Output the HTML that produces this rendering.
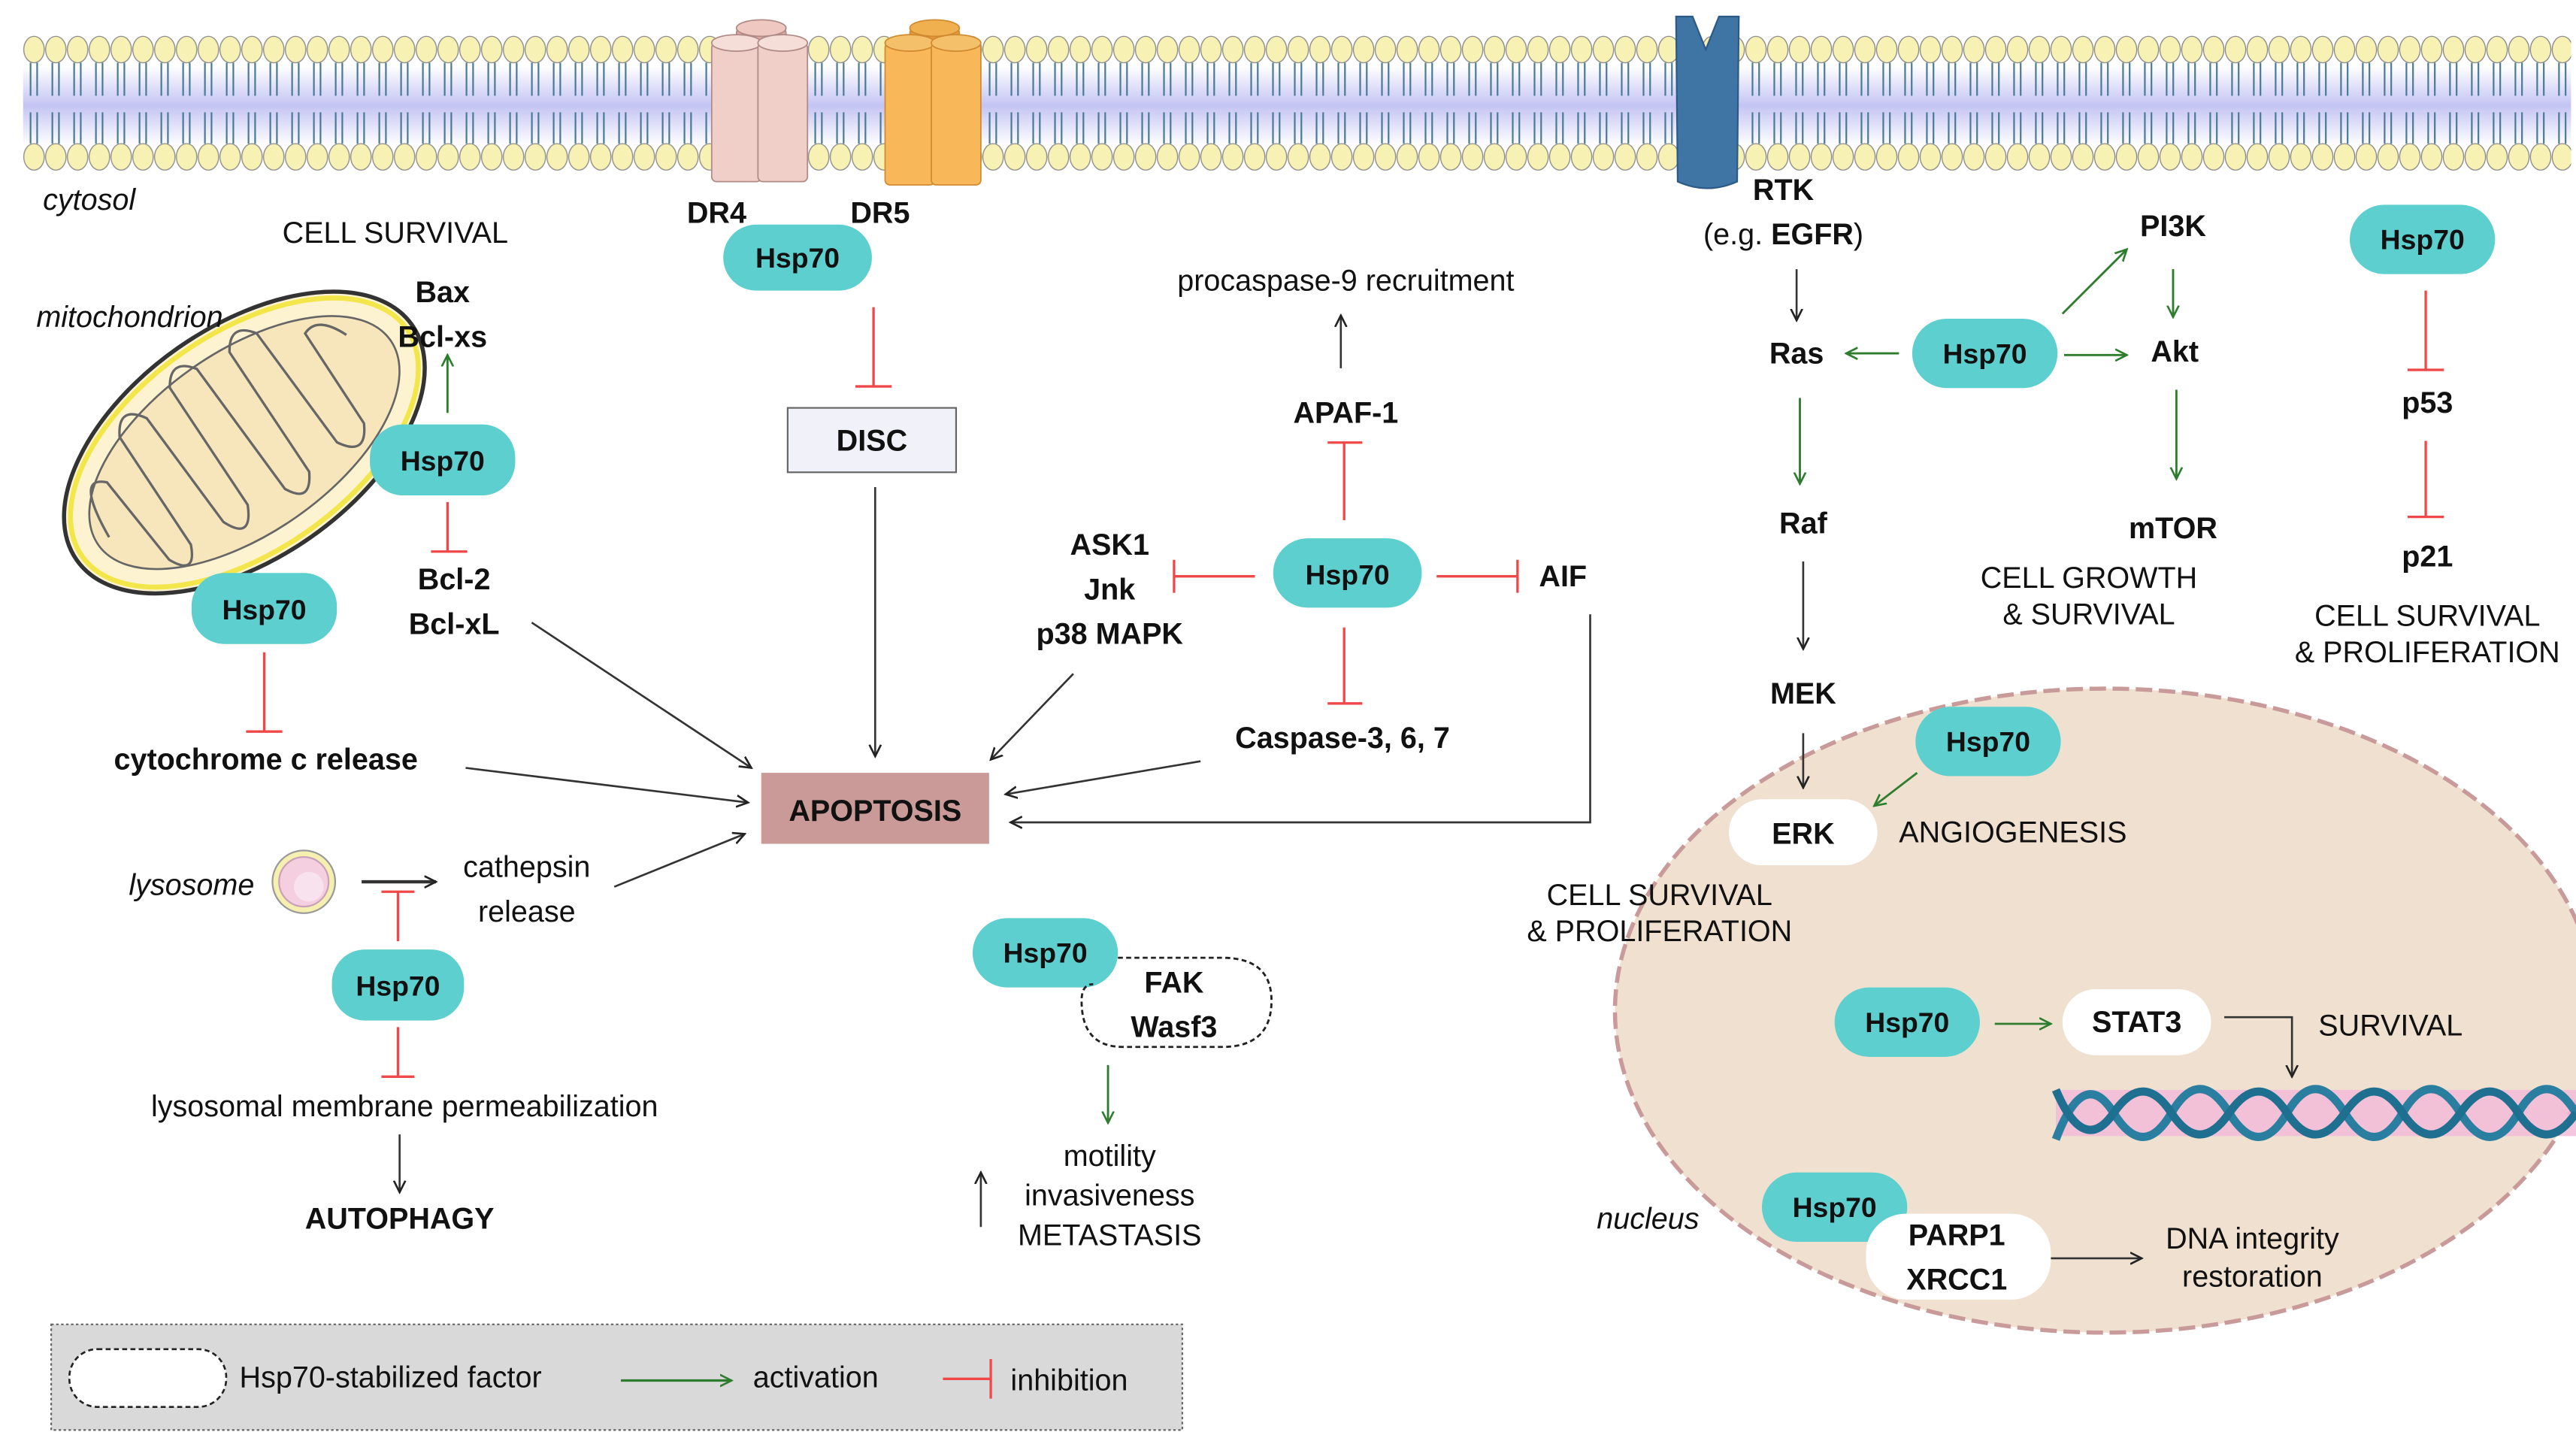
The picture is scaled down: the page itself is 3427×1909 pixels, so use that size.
<!DOCTYPE html>
<html><head><meta charset="utf-8"><style>
html,body{margin:0;padding:0;background:#fff}
svg{display:block}
text{font-family:"Liberation Sans",sans-serif;fill:#111}
.b{font-weight:bold;font-size:18px}
.r{font-size:18px}
.h{font-weight:bold;font-size:17px;text-anchor:middle}
</style></head><body>
<svg width="3427" height="1909" viewBox="0 0 1560 869" preserveAspectRatio="none" xmlns="http://www.w3.org/2000/svg">
<defs>
<linearGradient id="band" x1="0" y1="0" x2="0" y2="1">
<stop offset="0" stop-color="#fff"/><stop offset="0.5" stop-color="#c4c4f4"/><stop offset="1" stop-color="#fff"/></linearGradient>
<pattern id="heads" x="14" y="0" width="13.2" height="120" patternUnits="userSpaceOnUse">
<ellipse cx="6.6" cy="30" rx="6.2" ry="8" fill="#f8f1b4" stroke="#888" stroke-width="0.6"/>
<ellipse cx="6.6" cy="95" rx="6.2" ry="8" fill="#f8f1b4" stroke="#888" stroke-width="0.6"/>
<path d="M4.5 38 V58 M8.5 38 V58 M4.5 68 V87 M8.5 68 V87" stroke="#4a7a95" stroke-width="1"/>
</pattern>
<marker id="ak" markerWidth="8" markerHeight="8" refX="7" refY="4" orient="auto" markerUnits="userSpaceOnUse"><path d="M0,0.5 L7,4 L0,7.5" fill="none" stroke="#222" stroke-width="1.2"/></marker>
<marker id="ag" markerWidth="8" markerHeight="8" refX="7" refY="4" orient="auto" markerUnits="userSpaceOnUse"><path d="M0,0.5 L7,4 L0,7.5" fill="none" stroke="#2e7d2e" stroke-width="1.2"/></marker>
</defs>

<rect x="14" y="40" width="1543" height="48" fill="url(#band)"/>
<rect x="14" y="18" width="1543" height="90" fill="url(#heads)"/>
<g stroke="#b08a86" stroke-width="0.8">
<rect x="446" y="17" width="30" height="80" rx="3" fill="#e0a8a0"/>
<ellipse cx="461" cy="17" rx="15" ry="5" fill="#efc8c2"/>
<rect x="431" y="26" width="30" height="84" rx="3" fill="#f0cfc8"/>
<ellipse cx="446" cy="26" rx="15" ry="5" fill="#f5ddd8"/>
<rect x="459" y="26" width="30" height="84" rx="3" fill="#f0cfc8"/>
<ellipse cx="474" cy="26" rx="15" ry="5" fill="#f5ddd8"/>
</g>
<g stroke="#d08a30" stroke-width="0.8">
<rect x="551" y="17" width="30" height="80" rx="3" fill="#e59a3a"/>
<ellipse cx="566" cy="17" rx="15" ry="5" fill="#f0b050"/>
<rect x="536" y="26" width="30" height="86" rx="3" fill="#f8b85a"/>
<ellipse cx="551" cy="26" rx="15" ry="5" fill="#f5c06a"/>
<rect x="564" y="26" width="30" height="86" rx="3" fill="#f8b85a"/>
<ellipse cx="579" cy="26" rx="15" ry="5" fill="#f5c06a"/>
</g>
<path d="M1015 10 L1025 10 L1033 30 L1041 10 L1053 10 L1052 110 Q1034 118 1016 110 Z" fill="#3f75a5" stroke="#2c5a85" stroke-width="1"/>

<ellipse cx="1275" cy="612" rx="297" ry="195" fill="#efe0d0" stroke="#c99a9a" stroke-width="2.5" stroke-dasharray="10,4"/>
<g>
<rect x="1245" y="660" width="315" height="28" fill="#f3b8d8" opacity="0.8"/>
<path d="M1245 690 Q1262 645 1280 674 T1315 674 T1350 674 T1385 674 T1420 674 T1455 674 T1490 674 T1525 674 T1560 674" fill="none" stroke="#2a7fa0" stroke-width="5"/>
<path d="M1245 660 Q1262 700 1280 674 T1315 674 T1350 674 T1385 674 T1420 674 T1455 674 T1490 674 T1525 674 T1560 674" fill="none" stroke="#1f6f90" stroke-width="5"/>
</g>

<g transform="rotate(-35 148 268)">
<ellipse cx="148" cy="268" rx="124" ry="70" fill="#fdf3d0" stroke="#333" stroke-width="2.5"/>
<ellipse cx="148" cy="268" rx="120" ry="66" fill="none" stroke="#f2e64a" stroke-width="3"/>
<ellipse cx="148" cy="268" rx="108" ry="55" fill="#f7e6bb" stroke="#666" stroke-width="1.2"/>
<path d="M48 268 Q52 225 66 240 L70 300 Q78 318 86 300 L88 222 Q98 205 108 222 L110 300 Q118 320 128 300 L130 215 Q140 200 150 215 L152 305 Q160 322 170 305 L172 218 Q182 203 192 218 L194 300 Q204 318 214 300 L216 235 Q228 230 236 250" fill="none" stroke="#666" stroke-width="1.5"/>
</g>

<!-- lysosome -->
<circle cx="184" cy="534" r="19" fill="#f5f0b0" stroke="#999" stroke-width="1"/>
<circle cx="184" cy="534" r="15" fill="#f3cfe0" stroke="#c8a0b8" stroke-width="1"/>
<circle cx="187" cy="537" r="9" fill="#f8e2ee"/>

<g fill="#5dcfcf">
<rect x="438" y="136" width="90" height="40" rx="20"/>
<rect x="224" y="257" width="88" height="43" rx="20"/>
<rect x="116" y="347" width="88" height="43" rx="20"/>
<rect x="771" y="326" width="90" height="42" rx="21"/>
<rect x="1158" y="193" width="88" height="42" rx="21"/>
<rect x="1423" y="124" width="88" height="42" rx="21"/>
<rect x="1160" y="428" width="88" height="42" rx="21"/>
<rect x="201" y="575" width="80" height="43" rx="20"/>
<rect x="589" y="556" width="88" height="42" rx="21"/>
<rect x="1111" y="598" width="88" height="42" rx="21"/>
<rect x="1067" y="710" width="88" height="42" rx="21"/>
</g>
<g>
<text class="h" x="483" y="162">Hsp70</text>
<text class="h" x="268" y="285">Hsp70</text>
<text class="h" x="160" y="375">Hsp70</text>
<text class="h" x="816" y="354">Hsp70</text>
<text class="h" x="1202" y="220">Hsp70</text>
<text class="h" x="1467" y="151">Hsp70</text>
<text class="h" x="1204" y="455">Hsp70</text>
<text class="h" x="241" y="603">Hsp70</text>
<text class="h" x="633" y="583">Hsp70</text>
<text class="h" x="1155" y="625">Hsp70</text>
<text class="h" x="1111" y="737">Hsp70</text>
</g>

<rect x="1047" y="484" width="90" height="40" rx="20" fill="#fff"/>
<rect x="1249" y="599" width="90" height="40" rx="20" fill="#fff"/>
<rect x="1130" y="735" width="112" height="52" rx="24" fill="#fff"/>
<path d="M677 580 L740 580 Q770 580 770 606 Q770 634 740 634 L680 634 Q655 634 655 606 Q655 596 662 596" fill="none" stroke="#222" stroke-width="1.3" stroke-dasharray="3,2"/>

<rect x="477" y="247" width="102" height="39" fill="#f1f1fa" stroke="#666" stroke-width="1"/>
<text class="b" x="528" y="273" text-anchor="middle">DISC</text>
<rect x="461" y="468" width="138" height="43" fill="#c99a98"/>
<text class="b" x="530" y="497" text-anchor="middle">APOPTOSIS</text>

<text class="r" x="26" y="127" font-style="italic">cytosol</text>
<text class="r" x="171" y="147" font-size="19">CELL SURVIVAL</text>
<text class="r" x="22" y="198" font-style="italic">mitochondrion</text>
<text class="b" x="416" y="135">DR4</text>
<text class="b" x="515" y="135">DR5</text>
<text class="b" x="268" y="183" text-anchor="middle">Bax</text>
<text class="b" x="268" y="210" text-anchor="middle">Bcl-xs</text>
<text class="b" x="275" y="357" text-anchor="middle">Bcl-2</text>
<text class="b" x="275" y="384" text-anchor="middle">Bcl-xL</text>
<text class="b" x="161" y="466" text-anchor="middle">cytochrome c release</text>
<text class="r" x="78" y="542" font-style="italic">lysosome</text>
<text class="r" x="319" y="531" text-anchor="middle">cathepsin</text>
<text class="r" x="319" y="558" text-anchor="middle">release</text>
<text class="r" x="245" y="676" text-anchor="middle">lysosomal membrane permeabilization</text>
<text class="b" x="242" y="744" text-anchor="middle">AUTOPHAGY</text>
<text class="r" x="815" y="176" text-anchor="middle">procaspase-9 recruitment</text>
<text class="b" x="815" y="256" text-anchor="middle">APAF-1</text>
<text class="b" x="672" y="336" text-anchor="middle">ASK1</text>
<text class="b" x="672" y="363" text-anchor="middle">Jnk</text>
<text class="b" x="672" y="390" text-anchor="middle">p38 MAPK</text>
<text class="b" x="932" y="355">AIF</text>
<text class="b" x="813" y="453" text-anchor="middle">Caspase-3, 6, 7</text>
<text class="b" x="711" y="601" text-anchor="middle">FAK</text>
<text class="b" x="711" y="628" text-anchor="middle">Wasf3</text>
<text class="r" x="672" y="706" text-anchor="middle">motility</text>
<text class="r" x="672" y="730" text-anchor="middle">invasiveness</text>
<text class="r" x="672" y="754" text-anchor="middle">METASTASIS</text>
<text class="b" x="1080" y="121" text-anchor="middle">RTK</text>
<text class="r" x="1080" y="148" text-anchor="middle">(e.g. <tspan font-weight="bold">EGFR</tspan>)</text>
<text class="b" x="1316" y="143" text-anchor="middle">PI3K</text>
<text class="b" x="1088" y="220" text-anchor="middle">Ras</text>
<text class="b" x="1317" y="219" text-anchor="middle">Akt</text>
<text class="b" x="1092" y="323" text-anchor="middle">Raf</text>
<text class="b" x="1316" y="326" text-anchor="middle">mTOR</text>
<text class="r" x="1265" y="356" text-anchor="middle">CELL GROWTH</text>
<text class="r" x="1265" y="378" text-anchor="middle">&amp; SURVIVAL</text>
<text class="b" x="1470" y="250" text-anchor="middle">p53</text>
<text class="b" x="1470" y="343" text-anchor="middle">p21</text>
<text class="r" x="1470" y="379" text-anchor="middle">CELL SURVIVAL</text>
<text class="r" x="1470" y="401" text-anchor="middle">&amp; PROLIFERATION</text>
<text class="b" x="1092" y="426" text-anchor="middle">MEK</text>
<text class="b" x="1092" y="511" text-anchor="middle">ERK</text>
<text class="r" x="1150" y="510">ANGIOGENESIS</text>
<text class="r" x="1005" y="548" text-anchor="middle">CELL SURVIVAL</text>
<text class="r" x="1005" y="570" text-anchor="middle">&amp; PROLIFERATION</text>
<text class="b" x="1294" y="625" text-anchor="middle">STAT3</text>
<text class="r" x="1404" y="627">SURVIVAL</text>
<text class="r" x="967" y="744" font-style="italic">nucleus</text>
<text class="b" x="1185" y="754" text-anchor="middle">PARP1</text>
<text class="b" x="1185" y="781" text-anchor="middle">XRCC1</text>
<text class="r" x="1364" y="756" text-anchor="middle">DNA  integrity</text>
<text class="r" x="1364" y="779" text-anchor="middle">restoration</text>

<g stroke="#f04848" stroke-width="1.5" fill="none">
<path d="M529 186 V234 M518 234 H540"/>
<path d="M271 304 V334 M261 334 H283"/>
<path d="M160 395 V443 M149 443 H171"/>
<path d="M814 315 V268 M804 268 H825"/>
<path d="M760 349 H711 M711 339 V359"/>
<path d="M870 349 H919 M919 339 V359"/>
<path d="M814 380 V426 M804 426 H825"/>
<path d="M241 570 V540 M231 540 H251"/>
<path d="M241 622 V652 M231 652 H251"/>
<path d="M1469 176 V224 M1458 224 H1480"/>
<path d="M1469 267 V313 M1458 313 H1480"/>
</g>
<g stroke="#2e7d2e" stroke-width="1.3" fill="none" marker-end="url(#ag)">
<path d="M271 250 V215"/>
<path d="M1150 214 H1118"/>
<path d="M1250 215 H1288"/>
<path d="M1249 190 L1288 151"/>
<path d="M1316 163 V192"/>
<path d="M1090 241 V293"/>
<path d="M1318 236 V290"/>
<path d="M1161 468 L1135 488"/>
<path d="M1208 620 H1242"/>
<path d="M671 645 V680"/>
</g>
<g stroke="#333" stroke-width="1.2" fill="none" marker-end="url(#ak)">
<path d="M1088 163 V194"/>
<path d="M1092 340 V393"/>
<path d="M1092 444 V477"/>
<path d="M812 223 V191"/>
<path d="M530 295 V458"/>
<path d="M322 377 L455 465"/>
<path d="M282 465 L453 486"/>
<path d="M372 537 L451 505"/>
<path d="M650 408 L600 460"/>
<path d="M727 461 L609 481"/>
<path d="M963 372 V498 H612"/>
<path d="M219 534 H264" stroke-width="2"/>
<path d="M242 687 V722"/>
<path d="M594 743 V710"/>
<path d="M1347 616 H1388 V652"/>
<path d="M1242 762 H1297"/>
</g>

<rect x="31" y="802" width="685" height="64" fill="#d9d9d9" stroke="#666" stroke-width="1" stroke-dasharray="1.5,1.5"/>
<rect x="42" y="817" width="95" height="35" rx="17" fill="#fff" stroke="#222" stroke-width="1.2" stroke-dasharray="3,2"/>
<text class="r" x="145" y="840">Hsp70-stabilized factor</text>
<path d="M376 836 H443" stroke="#2e7d2e" stroke-width="1.5" marker-end="url(#ag)"/>
<text class="r" x="456" y="840">activation</text>
<path d="M571 835 H600 M600 823 V847" stroke="#f04848" stroke-width="1.5" fill="none"/>
<text class="r" x="612" y="842">inhibition</text>
</svg>
</body></html>
